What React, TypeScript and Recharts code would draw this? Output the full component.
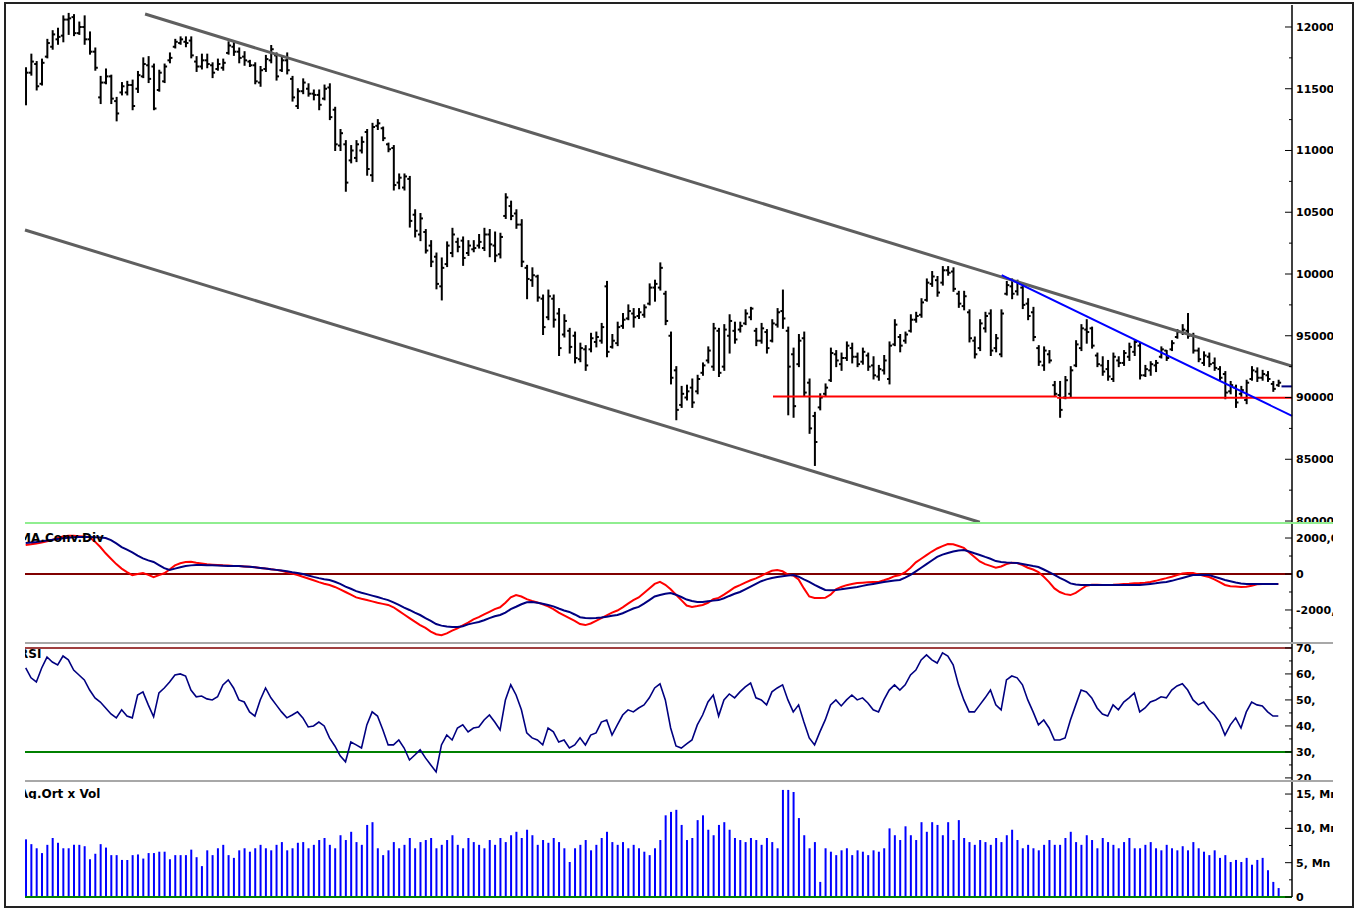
import React from "react"
import { Bar, ComposedChart, Line, ReferenceLine, XAxis, YAxis } from "recharts"

// price bars, one entry per session
const high = [
  116700, 117800, 117200, 117400, 119000, 119700, 119900, 120900, 121100, 121000, 120400, 120900, 119600, 118300, 116000, 116600, 116100, 114300, 115500, 115600,
  115700, 116400, 117500, 117600, 117000, 116500, 117000, 117900, 119000, 119200, 119200, 119200, 117600, 117800, 117800, 117100, 117400, 117400, 118800, 118800,
  118300, 118000, 117300, 117100, 116800, 117700, 118500, 117900, 117600, 117900, 116000, 115000, 115800, 115400, 114900, 114900, 115300, 115400, 113500, 111700,
  110800, 110400, 110800, 111100, 111700, 112200, 112500, 111900, 110600, 110400, 108100, 108100, 107900, 105200, 104900, 103600, 102700, 101700, 101300, 102600,
  103700, 102900, 103000, 102700, 102700, 103200, 103700, 103600, 103400, 103300, 106500, 105900, 105200, 104400, 100700, 100500, 99900, 98300, 98700, 98300,
  97200, 96700, 95600, 95300, 94400, 94200, 95200, 95300, 96000, 99400, 95100, 96100, 96800, 97500, 97200, 97200, 97500, 99200, 99500, 100900,
  98600, 95300, 92500, 90900, 91000, 91500, 91800, 92800, 94100, 96000, 95600, 95900, 96700, 96100, 96100, 97100, 97300, 95600, 96000, 95500,
  96300, 97200, 98700, 95700, 94000, 95100, 95300, 91500, 88800, 90300, 91100, 94000, 93800, 93600, 94500, 94400, 93600, 94000, 93600, 93300,
  92600, 93400, 94500, 96300, 95100, 95300, 96700, 96900, 98000, 99600, 100200, 99800, 100600, 100600, 100500, 98600, 98600, 97100, 94900, 96300,
  96900, 97100, 95100, 97100, 99400, 99600, 99500, 99100, 98000, 97300, 94200, 94100, 93800, 91300, 91300, 91700, 92500, 94600, 95900, 96300,
  95700, 93600, 93300, 93000, 93600, 93300, 93800, 94400, 94600, 94400, 92600, 92900, 93000, 94100, 93800, 94600, 95500, 95900, 96800, 95200,
  94000, 93700, 93600, 93200, 92500, 92100, 91300, 91000, 90900, 91400, 92500, 92400, 92200, 92100, 91300, 91400,
]
const low = [
  113700, 116100, 114900, 115300, 117500, 118200, 118600, 118800, 119400, 119300, 119400, 118600, 117800, 116500, 113800, 115400, 113800, 112400, 114500, 114500,
  113300, 114700, 115900, 115500, 113300, 114800, 115500, 117100, 118300, 118600, 118400, 117500, 116400, 116600, 116700, 115900, 116500, 116500, 117800, 117700,
  117100, 116900, 116800, 115400, 115200, 116400, 117100, 115700, 116400, 116200, 114000, 113400, 114600, 114400, 114100, 113300, 114100, 112500, 110000, 110000,
  106700, 109000, 109100, 109800, 108000, 107500, 111700, 110800, 109900, 106800, 106900, 106800, 103800, 103000, 102700, 101700, 100600, 98800, 97900, 100600,
  101400, 101800, 100700, 101500, 101800, 102100, 101900, 101400, 101000, 101300, 104500, 104400, 103700, 100600, 98000, 99000, 97800, 95100, 96300, 95700,
  93400, 94900, 93600, 92800, 92900, 92200, 93700, 94100, 94400, 93300, 94000, 94200, 95600, 96300, 95700, 96400, 96500, 97500, 97800, 98700,
  95900, 91100, 88200, 89200, 89800, 89200, 90300, 91800, 92800, 92200, 91700, 92200, 93600, 94400, 95300, 95900, 96300, 94200, 94400, 93600,
  94500, 95700, 95600, 88600, 88400, 92500, 90100, 87100, 84500, 89000, 90100, 91300, 92500, 92200, 93000, 92800, 92500, 92700, 92200, 91500,
  91400, 91900, 91100, 94200, 93700, 94400, 95300, 96100, 96500, 97800, 99000, 98200, 99100, 99900, 98600, 97300, 97100, 94500, 93200, 93800,
  95300, 93400, 93700, 93300, 98300, 98000, 98300, 97200, 96300, 94600, 92600, 92200, 92800, 90100, 88400, 89900, 90000, 92500, 93800, 94400,
  94000, 92500, 91800, 91400, 91300, 92500, 92600, 93000, 93400, 91500, 91700, 91800, 92100, 93200, 93000, 93800, 94800, 95100, 94800, 93600,
  92900, 92600, 92500, 92200, 91400, 89900, 90300, 89200, 90100, 89500, 91400, 91300, 91400, 91300, 90500, 90900,
]
const open = [
  113900, 116300, 117000, 115400, 117600, 118400, 119000, 119300, 120600, 120800, 119500, 120000, 119000, 118000, 114300, 115500, 116000, 114000, 114700, 114700,
  115300, 115000, 116000, 116900, 116800, 114900, 115600, 117300, 118400, 118700, 118800, 118900, 117200, 116800, 117300, 116900, 116600, 116700, 117900, 118400,
  118000, 117600, 117200, 116900, 115500, 116600, 117300, 117700, 116500, 117300, 115800, 113600, 114800, 115000, 114600, 114500, 114200, 115100, 113300, 110400,
  110500, 109200, 109400, 110000, 111500, 108000, 112000, 111800, 110500, 110200, 107400, 107000, 107700, 104800, 103200, 103400, 102300, 101400, 99000, 100800,
  101700, 102600, 102700, 101700, 102000, 102300, 102100, 103200, 102300, 101600, 104700, 105500, 104900, 104000, 100500, 99500, 99800, 98000, 96500, 98000,
  96800, 95100, 95400, 95000, 93100, 93900, 93900, 94500, 94600, 99000, 94100, 94400, 95800, 96400, 96800, 96600, 96700, 97600, 98900, 98900,
  98400, 95000, 92200, 89400, 90000, 90800, 90500, 92000, 93000, 92500, 95400, 92500, 95000, 95400, 95500, 96000, 96500, 95400, 94600, 95300,
  94600, 95900, 97000, 95400, 93500, 92700, 94800, 91200, 88500, 89200, 90300, 91400, 93500, 92700, 93200, 94000, 93300, 92900, 93400, 92600,
  91700, 92200, 91500, 94300, 94900, 94600, 95400, 96300, 96700, 97900, 99200, 99500, 99300, 100300, 100200, 98400, 97400, 96900, 94600, 94000,
  95600, 96800, 94000, 93500, 98400, 99000, 98600, 98900, 97600, 96900, 94000, 92600, 93500, 91000, 90200, 90000, 90300, 92600, 94000, 95500,
  95600, 93400, 92600, 92300, 91500, 93000, 92800, 93300, 93700, 94200, 91800, 92200, 92600, 93300, 93800, 93900, 94900, 95300, 95400, 95000,
  93800, 92800, 93300, 92800, 92300, 91900, 90500, 90800, 90300, 89800, 91500, 92100, 91600, 91800, 91100, 91000,
]
const close = [
  116300, 117200, 115200, 117100, 118700, 119400, 119200, 120600, 120700, 119500, 120000, 119000, 118000, 116700, 115500, 116000, 114200, 113000, 115200, 115300,
  113600, 116100, 117000, 115800, 113400, 116300, 116800, 117500, 118800, 119000, 118700, 117700, 116800, 117300, 117000, 116300, 117000, 117100, 118500, 118000,
  117500, 117300, 116900, 115600, 116500, 117400, 118200, 116000, 117300, 116500, 114300, 114800, 115500, 114600, 114500, 113700, 115000, 112700, 110500, 111400,
  107400, 110000, 110500, 110700, 108500, 111900, 112200, 111000, 110100, 107200, 107800, 107900, 104300, 103500, 104500, 101900, 101000, 99200, 100500, 102300,
  103200, 102200, 101300, 102300, 102100, 102600, 103200, 102400, 101500, 103000, 106200, 104700, 104000, 101000, 99600, 99900, 98100, 95700, 98200, 96300,
  94000, 96200, 94100, 93200, 94000, 92600, 94800, 94900, 95700, 93700, 94600, 95700, 96300, 97000, 96500, 96900, 97300, 98900, 99200, 100500,
  96200, 91600, 89000, 90300, 90500, 89600, 91500, 92600, 93800, 95600, 92000, 95500, 96200, 94700, 95800, 96800, 97200, 94600, 95600, 94000,
  96000, 96900, 96400, 92500, 89300, 94600, 90400, 87500, 86400, 90000, 90800, 93600, 93000, 93200, 94200, 93300, 92700, 93700, 92500, 91800,
  92300, 93000, 94200, 95900, 94200, 95100, 96300, 96600, 97700, 99300, 99800, 98500, 100300, 100100, 98800, 97600, 98200, 94800, 93500, 96000,
  96600, 93800, 94800, 96800, 99100, 98400, 99300, 97500, 96600, 94900, 92900, 93800, 93000, 90300, 89000, 91400, 92200, 94300, 95600, 95300,
  94200, 92700, 92100, 91700, 93300, 92800, 93600, 94100, 94500, 91800, 92300, 92700, 92800, 93900, 93200, 94400, 95300, 95500, 95000, 93800,
  93100, 93400, 92700, 92400, 91600, 90400, 91000, 89600, 90600, 91200, 92200, 91600, 91900, 91500, 90700, 91200,
]

// MACD (red) and its signal (navy)
const macdLine = [
  1610, 1650, 1700, 1750, 1820, 1900, 2000, 2080, 2120, 2120, 2100, 2080, 2040, 1800, 1500, 1150, 850, 550, 300, 110,
  -60, 0, 60, -50, -170, -60, 40, 250, 480, 600, 670, 680, 620, 580, 540, 520, 500, 480, 470, 450,
  440, 420, 400, 370, 340, 300, 270, 230, 180, 100, 20, -60, -150, -250, -350, -450, -540, -610, -720, -850,
  -1000, -1150, -1300, -1380, -1450, -1520, -1600, -1660, -1720, -1850, -2050, -2250, -2450, -2650, -2840, -3000, -3200, -3350, -3400, -3300,
  -3150, -3020, -2850, -2700, -2520, -2400, -2250, -2100, -1950, -1850, -1600, -1300, -1170, -1250, -1400, -1500, -1580, -1680, -1800, -1950,
  -2150, -2300, -2450, -2600, -2780, -2840, -2750, -2600, -2450, -2300, -2150, -2030, -1850, -1650, -1450, -1300, -1050, -800, -550, -440,
  -600, -850, -1150, -1450, -1750, -1830, -1780, -1720, -1600, -1400, -1330, -1150, -950, -750, -620, -480, -350, -240, -100, 50,
  180, 220, 150, -30, -80, -300, -800, -1250, -1330, -1340, -1320, -1150, -850, -720, -620, -560, -500, -480, -460, -450,
  -440, -350, -250, -120, -60, 100, 350, 650, 850, 1050, 1250, 1420, 1550, 1670, 1650, 1560, 1450, 1200, 950, 700,
  550, 450, 350, 420, 550, 620, 610, 500, 350, 250, 110, -150, -450, -800, -1000, -1120, -1170, -1050, -850, -650,
  -600, -600, -610, -610, -600, -580, -560, -540, -510, -500, -480, -440, -380, -300, -230, -150, -60, 30, 60, 60,
  -20, -100, -170, -300, -450, -610, -680, -700, -720, -710, -650, -570, -560, -560, -560, -560,
]
const signalLine = [
  1720, 1750, 1780, 1820, 1860, 1900, 1950, 1990, 2020, 2040, 2060, 2060, 2060, 2050, 2030, 2000, 1880, 1700, 1500, 1350,
  1200, 1020, 870, 760, 670, 500, 330, 220, 300, 380, 440, 480, 500, 500, 490, 480, 470, 460, 450, 445,
  440, 420, 400, 370, 340, 300, 260, 230, 190, 150, 100, 60, 0, -80, -160, -230, -290, -330, -430, -550,
  -700, -820, -950, -1040, -1120, -1200, -1280, -1370, -1450, -1580, -1720, -1870, -2000, -2150, -2280, -2450, -2600, -2780, -2870, -2920,
  -2950, -2950, -2900, -2800, -2730, -2670, -2570, -2450, -2350, -2280, -2150, -1950, -1820, -1680, -1570, -1560, -1600, -1650, -1720, -1800,
  -1920, -2030, -2110, -2250, -2400, -2450, -2460, -2450, -2420, -2380, -2320, -2280, -2180, -2050, -1920, -1830, -1650, -1450, -1250, -1170,
  -1100, -1060, -1150, -1280, -1420, -1500, -1550, -1560, -1520, -1480, -1450, -1350, -1220, -1100, -1000, -850, -700, -550, -400, -300,
  -220, -170, -120, -80, -60, -150, -300, -440, -600, -750, -890, -900, -890, -850, -800, -760, -720, -660, -600, -550,
  -500, -450, -400, -360, -330, -200, -50, 150, 350, 550, 750, 950, 1080, 1170, 1250, 1310, 1330, 1250, 1150, 1060,
  950, 850, 720, 670, 640, 620, 610, 560, 500, 440, 390, 250, 100, -50, -220, -350, -520, -580, -610, -610,
  -610, -610, -610, -610, -610, -610, -610, -610, -610, -610, -580, -550, -520, -470, -440, -380, -300, -220, -140, -60,
  -50, -60, -60, -150, -240, -330, -400, -470, -530, -560, -560, -560, -560, -560, -560, -560,
]

const rsi = [
  62.3, 58.5, 56.9, 62.3, 66.5, 64.6, 63.5, 66.9, 65.4, 61.5, 59.6, 57.7, 53.8, 50.8, 49.2, 46.9, 44.6, 43.1, 46.2, 43.8,
  43.1, 51.9, 53.1, 48.1, 43.5, 52.7, 54.6, 56.9, 59.6, 60.0, 59.2, 53.8, 51.2, 51.5, 50.4, 50.0, 51.2, 55.8, 57.7, 54.6,
  50.0, 49.2, 45.4, 43.8, 50.0, 54.6, 50.8, 48.1, 45.4, 43.1, 44.2, 45.4, 43.1, 39.6, 40.0, 41.5, 40.0, 35.4, 32.3, 28.5,
  26.2, 33.8, 32.7, 31.5, 40.4, 45.4, 43.8, 38.5, 32.7, 32.7, 34.6, 31.5, 26.9, 28.8, 30.8, 27.7, 25.0, 22.3, 32.7, 36.5,
  34.6, 39.2, 40.4, 37.7, 39.2, 39.6, 42.3, 44.2, 41.5, 38.5, 50.0, 55.8, 51.9, 46.2, 37.3, 35.4, 34.6, 32.7, 39.2, 37.7,
  33.8, 34.6, 31.5, 32.7, 35.4, 32.7, 36.5, 37.3, 41.5, 42.3, 36.5, 40.4, 44.2, 46.2, 45.4, 46.9, 48.1, 50.8, 54.6, 56.2,
  50.0, 39.2, 32.3, 31.5, 33.1, 34.6, 40.4, 44.2, 49.2, 51.9, 43.8, 50.0, 52.3, 50.8, 53.1, 55.0, 56.5, 50.8, 50.0, 48.1,
  53.1, 54.6, 55.8, 50.0, 45.4, 48.1, 41.5, 35.4, 32.7, 37.7, 42.3, 48.1, 50.0, 47.7, 50.0, 51.9, 50.0, 50.8, 48.8, 46.2,
  45.4, 50.0, 53.8, 55.8, 53.8, 55.8, 59.6, 61.5, 65.4, 67.3, 65.4, 64.2, 68.1, 66.9, 63.5, 55.8, 50.0, 45.4, 45.4, 48.1,
  50.8, 53.8, 48.1, 46.2, 57.7, 59.2, 58.5, 55.8, 50.0, 45.4, 40.4, 42.3, 39.2, 34.6, 34.6, 35.4, 42.3, 48.1, 53.8, 53.1,
  50.8, 46.9, 44.6, 43.8, 48.1, 46.2, 49.2, 50.8, 52.7, 45.4, 46.9, 49.2, 50.0, 51.2, 50.8, 53.8, 55.4, 56.2, 53.8, 50.0,
  48.1, 49.2, 46.2, 44.2, 41.5, 36.5, 40.4, 43.1, 39.2, 45.4, 49.2, 48.1, 47.7, 45.4, 43.8, 43.8,
]

// volume in millions
const volume = [
  8.4, 7.7, 7.1, 6.4, 7.6, 8.6, 7.9, 7.1, 7.1, 7.6, 7.6, 7.4, 5.5, 6.3, 7.7, 7.2, 6.1, 6.1, 5.4, 5.4,
  6.1, 6.2, 5.6, 6.4, 6.4, 6.6, 6.6, 5.5, 6.1, 6.1, 6.1, 6.9, 5.8, 4.5, 6.8, 6.1, 7.1, 7.6, 6.1, 5.7,
  6.8, 7.1, 6.6, 7.1, 7.6, 7.1, 6.8, 7.6, 8.0, 6.8, 7.1, 7.9, 8.0, 7.1, 7.6, 8.3, 8.6, 7.6, 7.1, 9.0,
  8.3, 9.5, 8.0, 7.6, 10.5, 10.9, 7.1, 6.1, 6.8, 8.0, 7.1, 7.6, 8.6, 7.1, 8.0, 8.3, 8.6, 7.1, 7.6, 8.3,
  9.0, 7.6, 7.1, 8.6, 8.0, 7.6, 7.1, 8.3, 7.6, 8.6, 8.0, 9.0, 9.5, 8.6, 9.8, 9.0, 7.6, 8.3, 7.9, 8.6,
  8.0, 7.1, 5.1, 7.1, 7.6, 8.3, 6.8, 7.6, 8.6, 9.5, 8.0, 7.6, 8.0, 7.1, 7.6, 7.1, 6.6, 6.1, 7.1, 8.3,
  11.9, 12.4, 12.7, 10.5, 8.3, 8.6, 11.2, 11.9, 9.8, 9.0, 10.5, 10.9, 9.8, 8.6, 8.3, 8.0, 8.6, 8.3, 7.6, 8.6,
  8.0, 7.1, 15.6, 15.6, 15.3, 11.5, 9.0, 7.1, 8.0, 2.2, 7.1, 6.6, 6.1, 6.8, 7.1, 6.1, 6.8, 6.6, 6.1, 6.8,
  6.6, 7.1, 10.0, 9.0, 8.3, 10.3, 9.0, 8.3, 10.9, 9.5, 10.9, 10.5, 9.0, 10.9, 8.3, 11.2, 8.6, 8.0, 7.6, 8.3,
  8.0, 7.6, 8.6, 8.0, 9.0, 9.8, 8.3, 7.1, 7.6, 7.1, 6.8, 7.6, 8.3, 7.6, 7.6, 8.6, 9.5, 8.0, 7.6, 9.0,
  8.3, 7.1, 8.6, 8.0, 7.6, 7.1, 8.0, 8.6, 7.1, 7.1, 7.6, 8.0, 7.1, 6.8, 7.6, 7.1, 6.8, 7.4, 6.8, 8.0,
  7.1, 6.6, 6.1, 6.8, 5.7, 6.1, 5.1, 5.4, 5.1, 5.7, 4.7, 5.4, 5.7, 3.9, 2.2, 1.3,
]

// drawn lines on the price panel: [session index, price]
const upperChannel = [[22.4, 121050], [237.57, 92540]]
const lowerChannel = [[-0.13, 103560], [179, 79900]]
const blueTrend = [[183.1, 99910], [237.57, 88510]]
const supportA = [[140.2, 90080], [193.5, 90080]]
const supportB = [[193.5, 89990], [237.57, 89990]]
const lastPrice = [[235.6, 90900], [237.57, 90900]]

const priceTicks = [80000, 82500, 85000, 87500, 90000, 92500, 95000, 97500, 100000, 102500, 105000, 107500, 110000, 112500, 115000, 117500, 120000]
const priceMajor = [80000, 85000, 90000, 95000, 100000, 105000, 110000, 115000, 120000]
const macdTicks = [-3000, -2000, -1000, 0, 1000, 2000]
const macdMajor = [-2000, 0, 2000]
const rsiTicks = [20, 25, 30, 35, 40, 45, 50, 55, 60, 65, 70]
const rsiMajor = [20, 30, 40, 50, 60, 70]
const volTicks = [0, 2.5, 5, 7.5, 10, 12.5, 15]
const volMajor = [0, 5, 10, 15]

const data = high.map((h, i) => ({
  i,
  hl: [low[i], h],
  high: h,
  low: low[i],
  open: open[i],
  close: close[i],
  macd: macdLine[i],
  signal: signalLine[i],
  rsi: rsi[i],
  vol: volume[i],
}))

const W = 1333
const LEFT = 25
const AXIS_W = 41
const X_DOMAIN: [number, number] = [-0.13, 237.57]
const FONT = "'DejaVu Sans', Verdana, sans-serif"

const seg = (pts: number[][]) => pts.map(([x, y]) => ({ x, y }))

function OhlcShape(props: any) {
  const { x, y, width, height, payload } = props
  const top = Math.min(y, y + height)
  const bot = Math.max(y, y + height)
  const cx = x + width / 2
  const range = payload.high - payload.low || 1
  const yo = top + ((payload.high - payload.open) / range) * (bot - top)
  const yc = top + ((payload.high - payload.close) / range) * (bot - top)
  return (
    <g stroke="#000" strokeWidth={2}>
      <line x1={cx} x2={cx} y1={top - 0.5} y2={bot + 0.5} />
      <line x1={cx - 2.5} x2={cx} y1={yo} y2={yo} />
      <line x1={cx} x2={cx + 2.5} y1={yc} y2={yc} />
    </g>
  )
}

const makeTick = (majors: number[], fmt: (v: number) => string) => (props: any) => {
  const { x, y, payload } = props
  const major = majors.includes(payload.value)
  return (
    <g>
      <line x1={x - (major ? 7 : 3)} x2={x} y1={y} y2={y} stroke="#000" strokeWidth={1} />
      {major && (
        <text x={x + 4} y={y} dy="0.36em" fontSize={11} fontWeight="bold" fill="#000" fontFamily={FONT}>
          {fmt(payload.value)}
        </text>
      )}
    </g>
  )
}

const axisProps = {
  orientation: "right" as const,
  type: "number" as const,
  width: AXIS_W,
  tickSize: 0,
  tickMargin: 0,
  tickLine: false,
  interval: 0 as const,
  allowDataOverflow: true,
  axisLine: { stroke: "#000", strokeWidth: 1.5 },
}

function Title({ top, text }: { top: number; text: string }) {
  return (
    <div style={{ position: "absolute", left: LEFT, top, width: 140, height: 16, overflow: "hidden" }}>
      <span style={{ marginLeft: -6, fontSize: 12, fontWeight: "bold", lineHeight: "16px", whiteSpace: "nowrap", fontFamily: FONT }}>
        {text}
      </span>
    </div>
  )
}

function Rule({ top, color, h = 2 }: { top: number; color: string; h?: number }) {
  return <div style={{ position: "absolute", left: LEFT, top, width: W - LEFT, height: h, background: color }} />
}

export default function App() {
  return (
    <div style={{ position: "absolute", left: 0, top: 0, width: 1360, height: 908, background: "#fff", fontFamily: FONT }}>
      {/* price */}
      <div style={{ position: "absolute", left: 0, top: 0, width: W, height: 523, overflow: "hidden" }}>
        <ComposedChart width={W} height={523} data={data} margin={{ top: 5, right: 0, bottom: 0, left: LEFT }}>
          <XAxis dataKey="i" type="number" domain={X_DOMAIN} allowDataOverflow hide />
          <YAxis {...axisProps} domain={[79840, 121780]} ticks={priceTicks} tick={makeTick(priceMajor, (v) => String(v))} />
          <ReferenceLine segment={seg(lowerChannel)} stroke="#5f5f5f" strokeWidth={3} ifOverflow="visible" />
          <ReferenceLine segment={seg(upperChannel)} stroke="#5f5f5f" strokeWidth={3} ifOverflow="visible" />
          <ReferenceLine segment={seg(supportA)} stroke="#ff0000" strokeWidth={2} ifOverflow="visible" />
          <ReferenceLine segment={seg(supportB)} stroke="#ff0000" strokeWidth={2} ifOverflow="visible" />
          <ReferenceLine segment={seg(blueTrend)} stroke="#0000ff" strokeWidth={2} ifOverflow="visible" />
          <ReferenceLine segment={seg(lastPrice)} stroke="#000080" strokeWidth={2} ifOverflow="visible" />
          <Bar dataKey="hl" barSize={4} shape={OhlcShape} isAnimationActive={false} />
        </ComposedChart>
      </div>

      {/* MACD */}
      <div style={{ position: "absolute", left: 0, top: 524, width: W, height: 118, overflow: "hidden" }}>
        <ComposedChart width={W} height={118} data={data} margin={{ top: 0, right: 0, bottom: 0, left: LEFT }}>
          <XAxis dataKey="i" type="number" domain={X_DOMAIN} allowDataOverflow hide />
          <YAxis {...axisProps} domain={[-3780, 2780]} ticks={macdTicks} tick={makeTick(macdMajor, (v) => (v === 0 ? "0" : `${v},00`))} />
          <ReferenceLine y={0} stroke="#800000" strokeWidth={2} />
          <Line dataKey="macd" stroke="#ff0000" strokeWidth={2} dot={false} isAnimationActive={false} />
          <Line dataKey="signal" stroke="#000080" strokeWidth={2} dot={false} isAnimationActive={false} />
        </ComposedChart>
      </div>

      {/* RSI */}
      <div style={{ position: "absolute", left: 0, top: 643, width: W, height: 137, overflow: "hidden" }}>
        <ComposedChart width={W} height={137} data={data} margin={{ top: 0, right: 0, bottom: 0, left: LEFT }}>
          <XAxis dataKey="i" type="number" domain={X_DOMAIN} allowDataOverflow hide />
          <YAxis {...axisProps} domain={[19.2, 71.9]} ticks={rsiTicks} tick={makeTick(rsiMajor, (v) => `${v},`)} />
          <ReferenceLine y={70} stroke="#800000" strokeWidth={1.5} />
          <ReferenceLine y={30} stroke="#008000" strokeWidth={2} />
          <Line dataKey="rsi" stroke="#000080" strokeWidth={1.6} dot={false} isAnimationActive={false} />
        </ComposedChart>
      </div>

      {/* volume */}
      <div style={{ position: "absolute", left: 0, top: 781, width: W, height: 125, overflow: "hidden" }}>
        <ComposedChart width={W} height={125} data={data} margin={{ top: 0, right: 0, bottom: 9, left: LEFT }}>
          <XAxis dataKey="i" type="number" domain={X_DOMAIN} allowDataOverflow hide />
          <YAxis {...axisProps} domain={[0, 16.9]} ticks={volTicks} tick={makeTick(volMajor, (v) => (v === 0 ? "0" : `${v}, Mn`))} />
          <Bar dataKey="vol" barSize={2} fill="#0000ff" isAnimationActive={false} />
          <ReferenceLine y={0} stroke="#008000" strokeWidth={2} />
        </ComposedChart>
      </div>

      <Rule top={522} color="#90ee90" />
      <Rule top={642} color="#a8a8a8" />
      <Rule top={780} color="#a8a8a8" />

      <Title top={527} text="MA.Conv.Div" />
      <Title top={643} text="RSI" />
      <Title top={783} text="Ag.Ort x Vol" />

      <div style={{ position: "absolute", left: 4, top: 2, width: 1346, height: 902, border: "2px solid #222", pointerEvents: "none" }} />
    </div>
  )
}
